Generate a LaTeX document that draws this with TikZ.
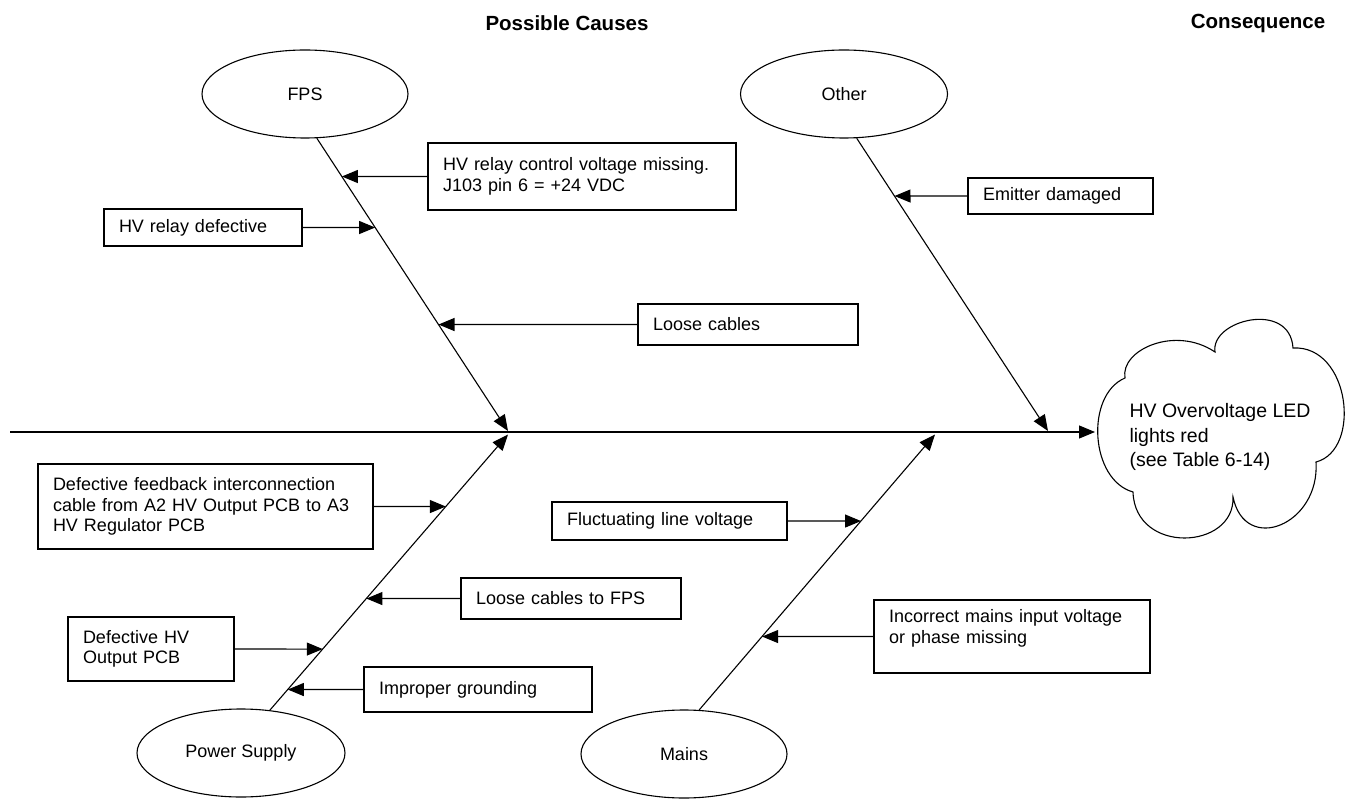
\documentclass[tikz,border=0pt]{standalone}
\usepackage{fontspec}
\setmainfont{Liberation Sans}
\usetikzlibrary{arrows.meta,shapes.geometric}
\tikzset{
  txt/.style={font=\fontsize{18}{20.5}\selectfont},
  causebox/.style={draw, rectangle, inner sep=0pt, align=left, txt},
  category/.style={draw, ellipse, inner sep=0pt, txt},
  bone/.style={-{Triangle[length=16pt,width=13pt]}},
  branch/.style={-{Triangle[length=16pt,width=13pt]}},
  heading/.style={font=\fontsize{20.5}{24}\selectfont\bfseries},
  effecttxt/.style={font=\fontsize{19.5}{24.5}\selectfont, align=left, inner sep=0pt}
}
\newcommand\cbox[6]{%
  \pgfmathsetmacro\cbW{#4-#2}\pgfmathsetmacro\cbH{#5-#3}\pgfmathsetmacro\cbT{#4-#2-30}%
  \pgfmathsetmacro\cbX{(#2+#4)/2}\pgfmathsetmacro\cbY{(#3+#5)/2}%
  \node[causebox, minimum width=\cbW pt, minimum height=\cbH pt, text width=\cbT pt] (#1) at (\cbX,\cbY) {#6};}
\begin{document}
\begin{tikzpicture}[x=1pt,y=-1pt,line width=1.1pt]
\useasboundingbox (0,0) rectangle (1349,799);

% headings
\node[heading] (tcauses) at (567,23) {Possible Causes};
\node[heading] (tcons) at (1258,23) {Consequence};

% categories
\node[category, minimum width=206pt, minimum height=88pt] (fps) at (305,94) {FPS};
\node[category, minimum width=207pt, minimum height=88pt] (other) at (844,94) {Other};
\node[category, minimum width=208pt, minimum height=88pt] (ps) at (241,753) {Power Supply};
\node[category, minimum width=206pt, minimum height=88pt] (mains) at (684,754) {Mains};

% spine and effect
\coordinate (spineL) at (10,432);
\coordinate (cloudW) at (1095,432);
\draw[bone] (spineL) -- (cloudW);
\draw (1125,378) .. controls (1120,350) and (1175,325) .. (1215,352)
  .. controls (1210,320) and (1290,300) .. (1293,348)
  .. controls (1350,345) and (1362,450) .. (1316,462)
  .. controls (1320,525) and (1245,555) .. (1233,497)
  .. controls (1235,550) and (1135,555) .. (1133,492)
  .. controls (1090,480) and (1085,395) .. cycle;
\node[effecttxt, anchor=west] (effect) at (1129,437) {HV Overvoltage LED\\lights red\\(see Table 6-14)};

% bones
\coordinate (fpsB) at (508,431);
\coordinate (psB) at (508,434.5);
\coordinate (otherB) at (1048,431);
\coordinate (mainsB) at (935,434.5);
\draw[bone] (fps.-75) -- (fpsB);
\draw[bone] (other.-74) -- (otherB);
\draw[bone] (ps.56) -- (psB);
\draw[bone] (mains.71) -- (mainsB);

% cause boxes
\cbox{relayctl}{428}{143}{736}{210}{HV relay control voltage missing.\\J103 pin 6 = +24 VDC}
\cbox{relaydef}{104}{209}{302}{246}{HV relay defective}
\cbox{loose}{638}{304}{858}{345}{Loose cables}
\cbox{emitter}{968}{178}{1153}{214}{Emitter damaged}
\cbox{feedback}{38}{464}{373}{549}{Defective feedback interconnection\\cable from A2 HV Output PCB to A3\\HV Regulator PCB}
\cbox{fluct}{552}{502}{787}{540}{Fluctuating line voltage}
\cbox{loosefps}{461}{578}{681}{619}{Loose cables to FPS}
\cbox{defhv}{68}{617}{234}{681}{Defective HV\\Output PCB}
\cbox{improper}{364}{667}{592}{712}{Improper grounding}
\cbox{incorrect}{874}{600}{1150}{673}{Incorrect mains input voltage\\or phase missing\\\mbox{}}

% branch end points on the bones
\coordinate (e1) at (intersection of fps.-75--fpsB and relayctl.west--relayctl.east);
\coordinate (e2) at (intersection of fps.-75--fpsB and relaydef.west--relaydef.east);
\coordinate (e3) at (intersection of fps.-75--fpsB and loose.west--loose.east);
\coordinate (e4) at (intersection of other.-74--otherB and emitter.west--emitter.east);
\coordinate (e5) at (intersection of ps.56--psB and feedback.west--feedback.east);
\coordinate (e6) at (intersection of mains.71--mainsB and fluct.west--fluct.east);
\coordinate (e7) at (intersection of ps.56--psB and loosefps.west--loosefps.east);
\coordinate (e8) at (intersection of ps.56--psB and defhv.west--defhv.east);
\coordinate (e9) at (intersection of ps.56--psB and improper.west--improper.east);
\coordinate (e10) at (intersection of mains.71--mainsB and incorrect.west--incorrect.east);

\draw[branch] (relayctl.west) -- (e1);
\draw[branch] (relaydef.east) -- (e2);
\draw[branch] (loose.west) -- (e3);
\draw[branch] (emitter.west) -- (e4);
\draw[branch] (feedback.east) -- (e5);
\draw[branch] (fluct.east) -- (e6);
\draw[branch] (loosefps.west) -- (e7);
\draw[branch] (defhv.east) -- (e8);
\draw[branch] (improper.west) -- (e9);
\draw[branch] (incorrect.west) -- (e10);
\end{tikzpicture}
\end{document}
